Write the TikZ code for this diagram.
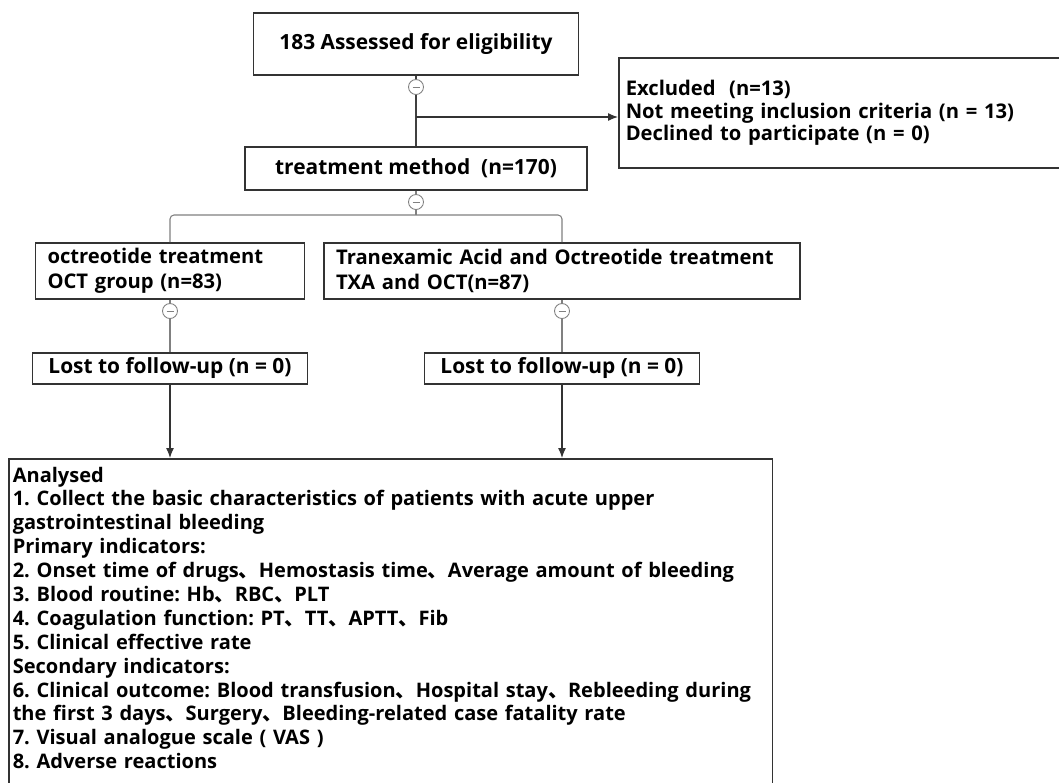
\documentclass[tikz,border=0pt]{standalone}
\usepackage{fontspec}
\setmainfont{Open Sans}
\newfontfamily\cjkfont{Noto Sans CJK SC}
\newcommand{\dunhao}{{\cjkfont 、}}
\usetikzlibrary{arrows.meta}
\frenchspacing

\begin{document}
\begin{tikzpicture}[x=0.02cm, y=-0.02cm,
        box/.style={draw=black!80, line width=0.9pt, inner sep=0pt},
        big/.style={font=\fontsize{11.9}{14}\selectfont\bfseries},
        mid/.style={font=\fontsize{11.5}{14.2}\selectfont\bfseries},
        small/.style={font=\fontsize{11.5}{12.75}\selectfont\bfseries},
        fold/.style={circle, draw=gray, fill=white, line width=0.5pt, minimum size=0.3cm, inner sep=0pt,
            path picture={\draw[gray] ([xshift=-0.07cm]path picture bounding box.center) -- ([xshift=0.07cm]path picture bounding box.center);}},
        link/.style={draw=gray, line width=0.6pt},
        trunk/.style={draw=black!75, line width=1.6pt},
        flow/.style={draw=black!80, line width=0.7pt, -{Latex[length=0.2cm,width=0.16cm]}}]
        \useasboundingbox (0, 0) rectangle (1059, 782);
        \clip (0, 0) rectangle (1059, 782);

        \node[box, big, minimum width=6.5cm, minimum height=1.24cm] (assess) at (416, 44) {183 Assessed for eligibility};
        \node[box, big, minimum width=6.84cm, minimum height=0.86cm] (treat) at (416, 168.5) {treatment method~~(n=170)};
        \node[box, small, anchor=west, text width=8.96cm, inner xsep=0.14cm, minimum height=2.2cm, align=left] (excl) at (618, 113)
            {Excluded~~(n=13)\\Not meeting inclusion criteria (n = 13)\\Declined to participate (n = 0)};

        \node[box, mid, text width=4.9cm, inner xsep=0.24cm, minimum height=1.12cm, align=left] (oct) at (170, 271)
            {octreotide treatment\\OCT group (n=83)};
        \node[box, mid, text width=9.04cm, inner xsep=0.24cm, minimum height=1.12cm, align=left] (txa) at (562, 271)
            {Tranexamic Acid and Octreotide treatment\\TXA and OCT(n=87)};
        \node[box, mid, font=\fontsize{11.9}{14}\selectfont\bfseries, minimum width=5.5cm, minimum height=0.62cm] (lostA) at (170, 368.5) {Lost to follow-up (n = 0)};
        \node[box, mid, font=\fontsize{11.9}{14}\selectfont\bfseries, minimum width=5.5cm, minimum height=0.62cm] (lostB) at (562, 368.5) {Lost to follow-up (n = 0)};

        \node[box, anchor=north west, text width=15.12cm, inner xsep=0.08cm, inner ysep=0.16cm, align=left,
            font=\fontsize{11.4}{13.6}\selectfont\bfseries] (ana) at (8, 458)
            {Analysed\\
            1. Collect the basic characteristics of patients with acute upper\\
            gastrointestinal bleeding\\
            Primary indicators:\\
            2. Onset time of drugs\dunhao Hemostasis time\dunhao Average amount of bleeding\\
            3. Blood routine: Hb\dunhao RBC\dunhao PLT\\
            4. Coagulation function: PT\dunhao TT\dunhao APTT\dunhao Fib\\
            5. Clinical effective rate\\
            Secondary indicators:\\
            6. Clinical outcome: Blood transfusion\dunhao Hospital stay\dunhao Rebleeding during\\
            the first 3 days\dunhao Surgery\dunhao Bleeding-related case fatality rate\\
            7. Visual analogue scale ( VAS )\\
            8. Adverse reactions\rule[-0.6cm]{0pt}{0pt}};

        % fold marks
        \node[fold] (f1) at (416, 87) {};
        \node[fold] (f2) at (416, 202) {};
        \node[fold] (f3) at (170, 311) {};
        \node[fold] (f4) at (562, 311) {};
        \coordinate (split) at (416, 117);
        \coordinate (fork) at (416, 215);

        \draw[draw=black!75, line width=0.6pt] (assess) -- (f1);
        \draw[trunk] (f1) -- (treat);
        \draw[flow] (split) -- (split -| excl.west);
        \draw[link] (treat) -- (f2);
        \draw[link] (f2) -- (fork);
        \draw[link, rounded corners=0.08cm] (fork) -| (oct);
        \draw[link, rounded corners=0.08cm] (fork) -| (txa);
        \draw[link] (oct) -- (f3);
        \draw[link] (f3) -- (lostA);
        \draw[link] (txa) -- (f4);
        \draw[link] (f4) -- (lostB);
        \draw[flow] (lostA) -- (lostA |- ana.north);
        \draw[flow] (lostB) -- (lostB |- ana.north);
\end{tikzpicture}
\end{document}
